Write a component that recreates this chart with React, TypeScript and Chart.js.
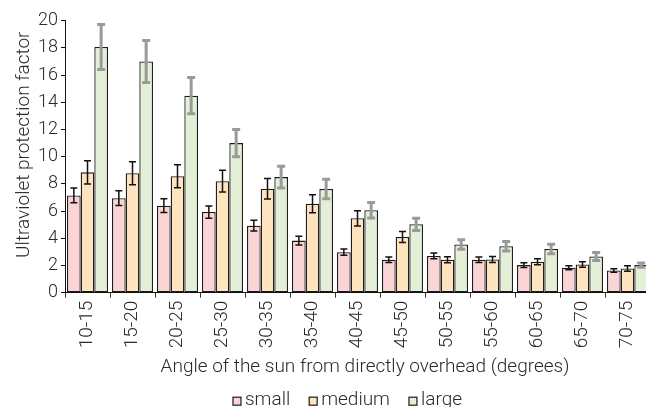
import React, { useEffect, useRef } from "react";
import { Chart, registerables } from "chart.js";

Chart.register(...registerables);

const categories = ["10-15", "15-20", "20-25", "25-30", "30-35", "35-40", "40-45", "45-50", "50-55", "55-60", "60-65", "65-70", "70-75"];
const seriesNames = ["small", "medium", "large"];
const small = [7.15, 6.95, 6.4, 5.93, 4.93, 3.83, 2.98, 2.42, 2.7, 2.42, 2.03, 1.83, 1.63];
const smallErr = [0.54, 0.54, 0.5, 0.45, 0.4, 0.32, 0.23, 0.2, 0.21, 0.2, 0.18, 0.15, 0.13];
const medium = [8.85, 8.78, 8.56, 8.2, 7.64, 6.54, 5.47, 4.1, 2.42, 2.44, 2.27, 2.07, 1.78];
const mediumErr = [0.85, 0.85, 0.85, 0.8, 0.75, 0.67, 0.56, 0.4, 0.22, 0.22, 0.22, 0.2, 0.2];
const large = [18.07, 17.0, 14.49, 11.0, 8.5, 7.62, 6.06, 5.03, 3.54, 3.42, 3.22, 2.66, 2.03];
const largeErr = [1.65, 1.55, 1.34, 1.0, 0.8, 0.72, 0.57, 0.45, 0.35, 0.35, 0.35, 0.3, 0.15];
const yTitle = "Ultraviolet protection factor";
const xTitle = "Angle of the sun from directly overhead (degrees)";

const fills = ["#fbd5d5", "#fee4be", "#e3f0d7"];
const errColors = ["#111111", "#111111", "#9a9a9a"];
const errWidths = [1.5, 1.5, 3];
const errCaps = [3.5, 3.5, 4];
const FONT = "Roboto, 'Liberation Sans', Arial, sans-serif";
const TEXT = "#2a2a2a";

const errorBarPlugin = {
  id: "errorBars",
  afterDatasetsDraw(chart: any) {
    const ctx = chart.ctx;
    const yScale = chart.scales.y;
    const errs = [smallErr, mediumErr, largeErr];
    chart.data.datasets.forEach((ds: any, di: number) => {
      const meta = chart.getDatasetMeta(di);
      meta.data.forEach((bar: any, i: number) => {
        const v = ds.data[i];
        const e = errs[di][i];
        const x = bar.x;
        const yt = yScale.getPixelForValue(v + e);
        const yb = yScale.getPixelForValue(v - e);
        ctx.save();
        ctx.strokeStyle = errColors[di];
        ctx.lineWidth = errWidths[di];
        ctx.lineCap = "butt";
        ctx.beginPath();
        ctx.moveTo(x, yt);
        ctx.lineTo(x, yb);
        ctx.moveTo(x - errCaps[di], yt);
        ctx.lineTo(x + errCaps[di], yt);
        ctx.moveTo(x - errCaps[di], yb);
        ctx.lineTo(x + errCaps[di], yb);
        ctx.stroke();
        ctx.restore();
      });
    });
  },
};

const titlesAndLegendPlugin = {
  id: "titlesAndLegend",
  afterDraw(chart: any) {
    const { ctx, chartArea: a } = chart;
    ctx.save();
    ctx.font = `300 19px ${FONT}`;
    ctx.fillStyle = TEXT;
    ctx.textBaseline = "middle";
    ctx.textAlign = "center";
    ctx.fillText(xTitle, (a.left + a.right) / 2 + 7.5, a.bottom + 75);

    // legend
    const box = 8;
    const gapText = 4;
    const gapItem = 19;
    const widths = seriesNames.map((n) => box + gapText + ctx.measureText(n).width);
    const total = widths.reduce((s, w) => s + w, 0) + gapItem * (seriesNames.length - 1);
    let x = (a.left + a.right) / 2 - 10 - total / 2;
    const ly = a.bottom + 107.5;
    ctx.textAlign = "left";
    chart.data.datasets.forEach((ds: any, i: number) => {
      ctx.fillStyle = ds.backgroundColor;
      ctx.fillRect(x, ly - box / 2 + 1, box, box);
      ctx.strokeStyle = "#1a1a1a";
      ctx.lineWidth = 1.2;
      ctx.strokeRect(x, ly - box / 2 + 1, box, box);
      ctx.fillStyle = TEXT;
      ctx.fillText(seriesNames[i], x + box + gapText, ly);
      x += widths[i] + gapItem;
    });

    ctx.textAlign = "center";
    ctx.translate(24.5, (a.top + a.bottom) / 2 - 12);
    ctx.rotate(-Math.PI / 2);
    ctx.fillText(yTitle, 0, 0);
    ctx.restore();
  },
};

export default function App() {
  const ref = useRef<HTMLCanvasElement | null>(null);
  useEffect(() => {
    if (!ref.current) return;
    const values = [small, medium, large];
    const chart = new Chart(ref.current, {
      type: "bar",
      data: {
        labels: categories,
        datasets: seriesNames.map((name, i) => ({
          label: name,
          data: values[i],
          backgroundColor: fills[i],
          borderColor: "#1a1a1a",
          borderWidth: 1.3,
          borderSkipped: false,
          barPercentage: 1.0,
          categoryPercentage: 0.91,
        })),
      },
      options: {
        responsive: false,
        animation: false,
        layout: { padding: { top: 20.7, left: 0, right: 45, bottom: 48.5 } },
        plugins: {
          tooltip: { enabled: false },
          legend: { display: false },
        },
        scales: {
          x: {
            grid: { drawOnChartArea: false, drawTicks: true, tickLength: 5, color: "#333", offset: true },
            border: { display: true, color: "#111", width: 1 },
            ticks: {
              minRotation: 90,
              maxRotation: 90,
              autoSkip: false,
              padding: 3,
              color: TEXT,
              font: { family: FONT, size: 19, weight: 300 },
            },
            afterFit: (s: any) => {
              s.height = 78.8;
            },
          },
          y: {
            min: 0,
            max: 20,
            ticks: { stepSize: 2, padding: 3, color: TEXT, font: { family: FONT, size: 18, weight: 300 } },
            grid: { drawOnChartArea: false, drawTicks: true, tickLength: 4, color: "#111" },
            border: { display: true, color: "#111", width: 1 },
            afterFit: (s: any) => {
              s.width = 65;
            },
          },
        },
      },
      plugins: [errorBarPlugin, titlesAndLegendPlugin],
    } as any);
    return () => chart.destroy();
  }, []);
  return (
    <div style={{ position: "absolute", left: 0, top: 0, width: 646, height: 407, overflow: "hidden", background: "#fff" }}>
      <canvas ref={ref} width={695} height={420} style={{ display: "block", width: 695, height: 420 }} />
    </div>
  );
}
